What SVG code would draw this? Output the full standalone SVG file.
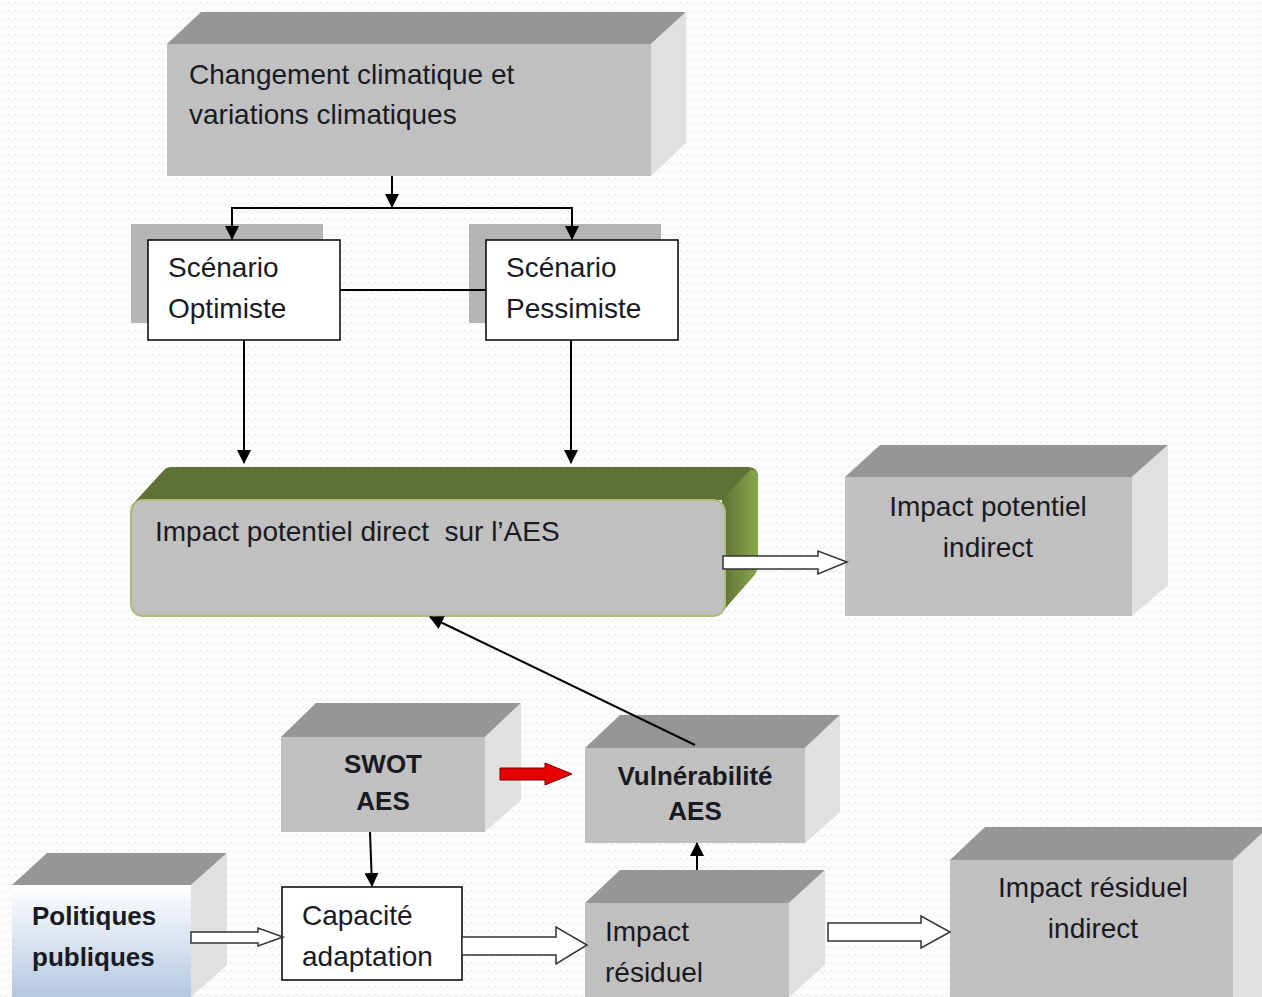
<svg xmlns="http://www.w3.org/2000/svg" width="1262" height="997" viewBox="0 0 1262 997">
<defs>
<pattern id="zz" width="12" height="8" patternUnits="userSpaceOnUse">
<polyline points="0,5 3,2 6,5 9,2 12,5" fill="none" stroke="#ececec" stroke-width="1"/>
</pattern>
<linearGradient id="grRight" x1="0" y1="0" x2="1" y2="0">
<stop offset="0" stop-color="#5f7134"/>
<stop offset="1" stop-color="#8aa64c"/>
</linearGradient>
<linearGradient id="blue" x1="0" y1="0" x2="0" y2="1">
<stop offset="0" stop-color="#ffffff"/>
<stop offset="1" stop-color="#b4c8e2"/>
</linearGradient>
<marker id="ah" markerWidth="14" markerHeight="14" refX="13" refY="7" orient="auto" markerUnits="userSpaceOnUse">
<path d="M0,0 L14,7 L0,14 Z" fill="#000"/>
</marker>
</defs>
<style>
text{font-family:"Liberation Sans",Arial,sans-serif;font-size:28px;fill:#1a1a22;white-space:pre}
.b{font-weight:bold;font-size:26px}
.front{fill:#c0c0c0}
.top{fill:#969696}
.side{fill:#e0e0e0}
.ln{stroke:#000;stroke-width:2;fill:none}
.hollow{fill:#fff;stroke:#333;stroke-width:1.5}
.wbox{fill:#fff;stroke:#000;stroke-width:1.5}
</style>
<rect width="1262" height="997" fill="#fdfdfd"/>
<rect width="1262" height="997" fill="url(#zz)"/>

<g id="node-changement">
<polygon class="top" points="167,44 201,12 686,12 651,44"/>
<polygon class="side" points="651,44 686,12 686,143 651,176"/>
<rect class="front" x="167" y="44" width="484" height="132"/>
<text x="189" y="84">Changement climatique et</text>
<text x="189" y="124">variations climatiques</text>
</g>

<g id="node-optimiste">
<rect x="131" y="224" width="192" height="99" fill="#b4b4b4"/>
<rect class="wbox" x="148" y="240" width="192" height="100"/>
<text x="168" y="277">Scénario</text>
<text x="168" y="318">Optimiste</text>
</g>

<g id="node-pessimiste">
<rect x="469" y="224" width="192" height="99" fill="#b4b4b4"/>
<rect class="wbox" x="486" y="240" width="192" height="100"/>
<text x="506" y="277">Scénario</text>
<text x="506" y="318">Pessimiste</text>
</g>

<g id="node-impact-direct">
<path d="M131,506 L164,470 Q166,467 172,467 L748,467 Q758,467 758,477 L758,560 Q758,570 750,578 L722,612 L722,500 Z" fill="#5f7134"/>
<path d="M722,500 L750,470 Q758,467 758,480 L758,565 Q758,572 752,578 L722,612 Z" fill="url(#grRight)"/>
<rect x="131" y="500" width="594" height="116" rx="12" fill="#c0c0c0" stroke="#a7bf7a" stroke-width="2"/>
<text x="155" y="541">Impact potentiel direct  sur l’AES</text>
</g>

<g id="node-impact-indirect">
<polygon class="top" points="845,477 880,445 1168,445 1132,477"/>
<polygon class="side" points="1132,477 1168,445 1168,585 1132,616"/>
<rect class="front" x="845" y="477" width="287" height="139"/>
<text x="988" y="516" text-anchor="middle">Impact potentiel</text>
<text x="988" y="557" text-anchor="middle">indirect</text>
</g>

<g id="node-swot">
<polygon class="top" points="281,737 316,703 521,703 485,737"/>
<polygon class="side" points="485,737 521,703 521,800 485,832"/>
<rect class="front" x="281" y="737" width="204" height="95"/>
<text class="b" x="383" y="773" text-anchor="middle">SWOT</text>
<text class="b" x="383" y="810" text-anchor="middle">AES</text>
</g>

<g id="node-vulnerabilite">
<polygon class="top" points="585,748 620,715 840,715 805,748"/>
<polygon class="side" points="805,748 840,715 840,812 805,843"/>
<rect class="front" x="585" y="748" width="220" height="95"/>
<text class="b" x="695" y="785" text-anchor="middle">Vulnérabilité</text>
<text class="b" x="695" y="820" text-anchor="middle">AES</text>
</g>

<g id="node-politiques">
<polygon class="top" points="12,885 47,853 227,853 191,885"/>
<polygon class="side" points="191,885 227,853 227,965 191,997"/>
<rect x="12" y="885" width="179" height="112" fill="url(#blue)"/>
<text class="b" x="32" y="925">Politiques</text>
<text class="b" x="32" y="966">publiques</text>
</g>

<g id="node-capacite">
<rect class="wbox" x="282" y="887" width="180" height="93"/>
<text x="302" y="925">Capacité</text>
<text x="302" y="966">adaptation</text>
</g>

<g id="node-impact-residuel">
<polygon class="top" points="585,903 620,870 825,870 789,903"/>
<polygon class="side" points="789,903 825,870 825,965 789,997"/>
<rect class="front" x="585" y="903" width="204" height="94"/>
<text x="605" y="941">Impact</text>
<text x="605" y="982">résiduel</text>
</g>

<g id="node-impact-residuel-indirect">
<polygon class="top" points="950,860 985,827 1262,827 1262,860"/>
<polygon class="side" points="1233,860 1262,833 1262,997 1233,997"/>
<rect class="front" x="950" y="860" width="283" height="137"/>
<text x="1093" y="897" text-anchor="middle">Impact résiduel</text>
<text x="1093" y="938" text-anchor="middle">indirect</text>
</g>

<g id="connectors">
<line class="ln" x1="392" y1="176" x2="392" y2="207" marker-end="url(#ah)"/>
<polyline class="ln" points="232,239 232,208 572,208 572,239"/>
<line class="ln" x1="232" y1="215" x2="232" y2="239" marker-end="url(#ah)"/>
<line class="ln" x1="572" y1="215" x2="572" y2="239" marker-end="url(#ah)"/>
<line class="ln" x1="340" y1="290" x2="486" y2="290" stroke-width="1.5"/>
<line class="ln" x1="244" y1="340" x2="244" y2="463" marker-end="url(#ah)"/>
<line class="ln" x1="571" y1="340" x2="571" y2="463" marker-end="url(#ah)"/>
<line class="ln" x1="695" y1="745" x2="430" y2="617" marker-end="url(#ah)"/>
<line class="ln" x1="370" y1="832" x2="372" y2="886" marker-end="url(#ah)"/>
<line class="ln" x1="697" y1="870" x2="697" y2="843" marker-end="url(#ah)"/>
<polygon class="hollow" points="723,556 818,556 818,551 847,562 818,574 818,569 723,569"/>
<polygon fill="#e60000" stroke="#7a0000" stroke-width="1" points="500,768 545,768 545,763 572,774 545,785 545,780 500,780"/>
<polygon class="hollow" points="191,932 258,932 258,928 283,937 258,946 258,943 191,943"/>
<polygon class="hollow" points="462,937 556,937 556,927 587,945 556,964 556,955 462,955"/>
<polygon class="hollow" points="828,923 921,923 921,916 950,932 921,948 921,941 828,941"/>
</g>
</svg>
